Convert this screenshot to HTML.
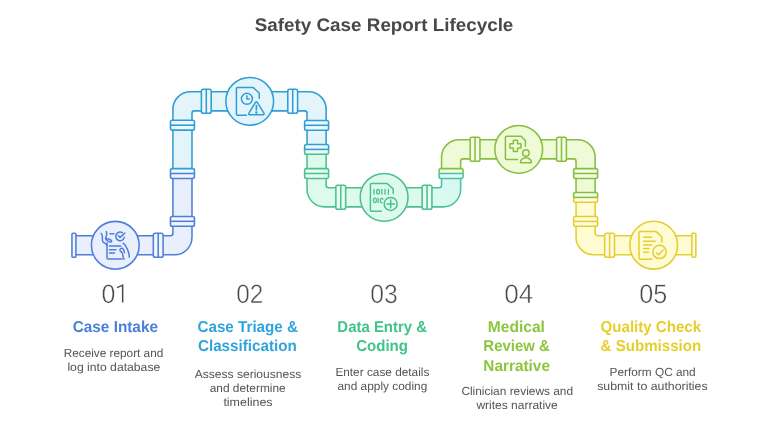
<!DOCTYPE html>
<html><head><meta charset="utf-8"><title>Safety Case Report Lifecycle</title>
<style>
html,body{margin:0;padding:0;background:#fff;}
body{width:768px;height:439px;overflow:hidden;font-family:"Liberation Sans",sans-serif;}
svg{display:block;}
text{font-family:"Liberation Sans",sans-serif;}
.b{font-weight:700;}
</style></head><body>
<svg width="768" height="439" viewBox="0 0 768 439">

<g stroke-linejoin="round">
<defs><linearGradient id="s3s" gradientUnits="userSpaceOnUse" x1="430" y1="207" x2="456" y2="176"><stop offset="0" stop-color="#4ac18f"/><stop offset="1" stop-color="#48c3a8"/></linearGradient><linearGradient id="s3f" gradientUnits="userSpaceOnUse" x1="430" y1="207" x2="456" y2="176"><stop offset="0" stop-color="#ddfaed"/><stop offset="1" stop-color="#d6f8f2"/></linearGradient></defs>
<path d="M74.00,235.70 L170.40,235.70 A2.5,2.5 0 0 0 172.90,233.20 L172.90,173.50 L192.00,173.50 L192.00,237.30 A17.5,17.5 0 0 1 174.50,254.80 L74.00,254.80 Z" fill="#eaeffd" stroke="#4f7fd8" stroke-width="1.55"/>
<path d="M172.90,173.50 L172.90,109.25 A17.5,17.5 0 0 1 190.40,91.75 L308.65,91.75 A17.5,17.5 0 0 1 326.15,109.25 L326.15,149.40 L307.05,149.40 L307.05,113.35 A2.5,2.5 0 0 0 304.55,110.85 L194.50,110.85 A2.5,2.5 0 0 0 192.00,113.35 L192.00,173.50 Z" fill="#e3f5fb" stroke="#309dd4" stroke-width="1.55"/>
<path d="M326.15,149.40 L326.15,185.25 A2.5,2.5 0 0 0 328.65,187.75 L439.05,187.75 A2.5,2.5 0 0 0 441.55,185.25 L441.55,173.50 L460.65,173.50 L460.65,189.35 A17.5,17.5 0 0 1 443.15,206.85 L324.55,206.85 A17.5,17.5 0 0 1 307.05,189.35 L307.05,149.40 Z" fill="url(#s3f)" stroke="url(#s3s)" stroke-width="1.55"/>
<path d="M441.55,173.50 L441.55,157.25 A17.5,17.5 0 0 1 459.05,139.75 L577.65,139.75 A17.5,17.5 0 0 1 595.15,157.25 L595.15,197.40 L576.05,197.40 L576.05,161.35 A2.5,2.5 0 0 0 573.55,158.85 L463.15,158.85 A2.5,2.5 0 0 0 460.65,161.35 L460.65,173.50 Z" fill="#eefbd6" stroke="#88bf42" stroke-width="1.55"/>
<path d="M595.15,197.40 L595.15,233.15 A2.5,2.5 0 0 0 597.65,235.65 L694.00,235.65 L694.00,254.75 L593.55,254.75 A17.5,17.5 0 0 1 576.05,237.25 L576.05,197.40 Z" fill="#fffbd2" stroke="#e3cf30" stroke-width="1.55"/>
</g>
<g>
<rect x="71.95" y="233.25" width="4.00" height="24.00" rx="1.1" fill="#f1f5fe" stroke="#4f7fd8" stroke-width="1.55"/>
<rect x="691.85" y="233.20" width="4.00" height="24.00" rx="1.1" fill="#fffce2" stroke="#e3cf30" stroke-width="1.55"/>
<rect x="153.30" y="233.25" width="9.80" height="24.00" rx="1.8" fill="#f1f5fe" stroke="#4f7fd8" stroke-width="1.55"/><line x1="158.20" y1="233.25" x2="158.20" y2="257.25" stroke="#4f7fd8" stroke-width="1.55"/>
<rect x="201.40" y="89.30" width="9.80" height="24.00" rx="1.8" fill="#edf8fc" stroke="#309dd4" stroke-width="1.55"/><line x1="206.30" y1="89.30" x2="206.30" y2="113.30" stroke="#309dd4" stroke-width="1.55"/>
<rect x="287.80" y="89.30" width="9.80" height="24.00" rx="1.8" fill="#edf8fc" stroke="#309dd4" stroke-width="1.55"/><line x1="292.70" y1="89.30" x2="292.70" y2="113.30" stroke="#309dd4" stroke-width="1.55"/>
<rect x="335.85" y="185.30" width="9.80" height="24.00" rx="1.8" fill="#e9fcf3" stroke="#4ac18f" stroke-width="1.55"/><line x1="340.75" y1="185.30" x2="340.75" y2="209.30" stroke="#4ac18f" stroke-width="1.55"/>
<rect x="422.15" y="185.30" width="9.80" height="24.00" rx="1.8" fill="#e9fcf3" stroke="#4ac18f" stroke-width="1.55"/><line x1="427.05" y1="185.30" x2="427.05" y2="209.30" stroke="#4ac18f" stroke-width="1.55"/>
<rect x="470.15" y="137.30" width="9.80" height="24.00" rx="1.8" fill="#f4fce4" stroke="#88bf42" stroke-width="1.55"/><line x1="475.05" y1="137.30" x2="475.05" y2="161.30" stroke="#88bf42" stroke-width="1.55"/>
<rect x="556.60" y="137.30" width="9.80" height="24.00" rx="1.8" fill="#f4fce4" stroke="#88bf42" stroke-width="1.55"/><line x1="561.50" y1="137.30" x2="561.50" y2="161.30" stroke="#88bf42" stroke-width="1.55"/>
<rect x="604.70" y="233.20" width="9.80" height="24.00" rx="1.8" fill="#fffce2" stroke="#e3cf30" stroke-width="1.55"/><line x1="609.60" y1="233.20" x2="609.60" y2="257.20" stroke="#e3cf30" stroke-width="1.55"/>
<rect x="170.45" y="216.40" width="24.00" height="9.80" rx="1.8" fill="#f1f5fe" stroke="#4f7fd8" stroke-width="1.55"/><line x1="170.45" y1="221.30" x2="194.45" y2="221.30" stroke="#4f7fd8" stroke-width="1.55"/>
<linearGradient id="g182_173s" x1="0" y1="0" x2="0" y2="1"><stop offset="0.5" stop-color="#309dd4"/><stop offset="0.5" stop-color="#4f7fd8"/></linearGradient><linearGradient id="g182_173f" x1="0" y1="0" x2="0" y2="1"><stop offset="0.5" stop-color="#edf8fc"/><stop offset="0.5" stop-color="#f1f5fe"/></linearGradient><rect x="170.45" y="168.60" width="24.00" height="9.80" rx="1.8" fill="url(#g182_173f)" stroke="url(#g182_173s)" stroke-width="1.55"/><line x1="170.45" y1="173.50" x2="194.45" y2="173.50" stroke="#4f7fd8" stroke-width="1.55"/>
<rect x="170.45" y="120.30" width="24.00" height="9.80" rx="1.8" fill="#edf8fc" stroke="#309dd4" stroke-width="1.55"/><line x1="170.45" y1="125.20" x2="194.45" y2="125.20" stroke="#309dd4" stroke-width="1.55"/>
<rect x="304.60" y="120.40" width="24.00" height="9.80" rx="1.8" fill="#edf8fc" stroke="#309dd4" stroke-width="1.55"/><line x1="304.60" y1="125.30" x2="328.60" y2="125.30" stroke="#309dd4" stroke-width="1.55"/>
<linearGradient id="g316_149s" x1="0" y1="0" x2="0" y2="1"><stop offset="0.5" stop-color="#309dd4"/><stop offset="0.5" stop-color="#4ac18f"/></linearGradient><linearGradient id="g316_149f" x1="0" y1="0" x2="0" y2="1"><stop offset="0.5" stop-color="#edf8fc"/><stop offset="0.5" stop-color="#e9fcf3"/></linearGradient><rect x="304.60" y="144.50" width="24.00" height="9.80" rx="1.8" fill="url(#g316_149f)" stroke="url(#g316_149s)" stroke-width="1.55"/><line x1="304.60" y1="149.40" x2="328.60" y2="149.40" stroke="#309dd4" stroke-width="1.55"/>
<rect x="304.60" y="168.60" width="24.00" height="9.80" rx="1.8" fill="#e9fcf3" stroke="#4ac18f" stroke-width="1.55"/><line x1="304.60" y1="173.50" x2="328.60" y2="173.50" stroke="#4ac18f" stroke-width="1.55"/>
<linearGradient id="g451_173s" x1="0" y1="0" x2="0" y2="1"><stop offset="0.5" stop-color="#88bf42"/><stop offset="0.5" stop-color="#48c3a8"/></linearGradient><linearGradient id="g451_173f" x1="0" y1="0" x2="0" y2="1"><stop offset="0.5" stop-color="#f4fce4"/><stop offset="0.5" stop-color="#e4faf7"/></linearGradient><rect x="439.10" y="168.60" width="24.00" height="9.80" rx="1.8" fill="url(#g451_173f)" stroke="url(#g451_173s)" stroke-width="1.55"/><line x1="439.10" y1="173.50" x2="463.10" y2="173.50" stroke="#48c3a8" stroke-width="1.55"/>
<rect x="573.60" y="168.60" width="24.00" height="9.80" rx="1.8" fill="#f4fce4" stroke="#88bf42" stroke-width="1.55"/><line x1="573.60" y1="173.50" x2="597.60" y2="173.50" stroke="#88bf42" stroke-width="1.55"/>
<linearGradient id="g585_197s" x1="0" y1="0" x2="0" y2="1"><stop offset="0.5" stop-color="#88bf42"/><stop offset="0.5" stop-color="#e3cf30"/></linearGradient><linearGradient id="g585_197f" x1="0" y1="0" x2="0" y2="1"><stop offset="0.5" stop-color="#f4fce4"/><stop offset="0.5" stop-color="#fffce2"/></linearGradient><rect x="573.60" y="192.50" width="24.00" height="9.80" rx="1.8" fill="url(#g585_197f)" stroke="url(#g585_197s)" stroke-width="1.55"/><line x1="573.60" y1="197.40" x2="597.60" y2="197.40" stroke="#88bf42" stroke-width="1.55"/>
<rect x="573.60" y="216.50" width="24.00" height="9.80" rx="1.8" fill="#fffce2" stroke="#e3cf30" stroke-width="1.55"/><line x1="573.60" y1="221.40" x2="597.60" y2="221.40" stroke="#e3cf30" stroke-width="1.55"/>
</g>
<circle cx="115.3" cy="245.25" r="23.9" fill="#eaeffd" stroke="#4f7fd8" stroke-width="1.55"/>
<circle cx="249.7" cy="101.3" r="23.9" fill="#e3f5fb" stroke="#309dd4" stroke-width="1.55"/>
<circle cx="384.1" cy="197.3" r="23.9" fill="#ddfaed" stroke="#4ac18f" stroke-width="1.55"/>
<circle cx="518.7" cy="149.3" r="23.9" fill="#eefbd6" stroke="#88bf42" stroke-width="1.55"/>
<circle cx="653.7" cy="245.2" r="23.9" fill="#fffbd2" stroke="#e3cf30" stroke-width="1.55"/>
<g fill="none" stroke="#4f7fd8" stroke-width="1.5" stroke-linecap="round" stroke-linejoin="round">
<path d="M101.2,233.4 C102,234.6 102.4,235.6 102.4,236.8 V240.4 C102.4,241.7 103.2,242.3 104.5,243 L107,244.9"/>
<path d="M106.3,231.6 C106.8,232.8 106.9,233.8 106.6,235 C106.3,236.2 105.7,237 105.8,238 C106.6,238.6 107.6,238.8 108.6,239 L111,240.1 C112.1,240.6 111.7,242 110.5,241.9 C109,241.7 107.8,241.2 106.9,240.5 C106.2,240 105.8,239.4 105.5,238.7"/>
<path d="M109.9,233.7 H113.9"/>
<path d="M107,242.8 V257.9 A1,1 0 0 0 108,258.9 H122.2"/>
<path d="M109.4,245.9 H120.8 M109.4,249.8 H116 M109.4,253 H114.6"/>
<path d="M123.1,243.2 C124.4,244 125.2,245 125.9,246.4 C126.6,247.8 127.4,249 127.9,250.4 C128.4,251.8 128.8,253 129,254.4 L129.3,257.1"/>
<path d="M119.8,249.9 C120.3,248.8 121.2,248 122.1,248.2 C123,248.4 123.5,249.3 123.8,250.2 L124.5,252.6"/>
<path d="M120.2,251 C121.2,251.6 122,252.2 122.4,253.2 C122.8,254.4 122.9,255.6 123.1,256.8 C123.3,257.8 123.7,258.5 124.1,259.2"/>
<path d="M124.3,237.2 A4.3,4.3 0 1 1 122.3,232.7"/>
<path d="M118.3,235.8 L120.1,237.4 L124.9,233"/>
</g>
<g fill="none" stroke="#309dd4" stroke-width="1.5" stroke-linecap="round" stroke-linejoin="round">
<path d="M246.4,115.2 H237.6 A1.2,1.2 0 0 1 236.4,114 V88.6 A1.2,1.2 0 0 1 237.6,87.4 H253 L259.2,93 V98.3"/>
<circle cx="246.9" cy="98.8" r="5.5"/>
<path d="M246.9,95.7 V98.9 H249.2"/>
<path d="M255.5,102.4 Q256.4,101 257.3,102.4 L263.9,113.2 Q264.6,114.7 263,114.7 H249.8 Q248.2,114.7 248.9,113.2 Z"/>
<path d="M256.4,105.7 V110" stroke-width="1.7"/>
<circle cx="256.4" cy="112.4" r="0.5" fill="#309dd4"/>
</g>
<g fill="none" stroke="#4ac18f" stroke-width="1.5" stroke-linecap="round" stroke-linejoin="round">
<path d="M381.3,211.2 H371.6 A1.2,1.2 0 0 1 370.4,210 V184.6 A1.2,1.2 0 0 1 371.6,183.4 H387 L393.2,189 V193.4"/>
<g stroke-width="1.3"><path d="M374,189.5 V194.2 M381.8,189.5 V194.2 M385,189.5 V194.2 M388.4,189.5 V194.2 M378.1,198.2 V202.6"/>
<rect x="376.7" y="189.5" width="2.8" height="4.7" rx="1.4"/>
<rect x="373.5" y="198.2" width="2.8" height="4.4" rx="1.4"/>
<path d="M382.2,202.6 A1.3,1.3 0 0 1 380.4,201.3 V199.5 A1.3,1.3 0 0 1 382.9,199.3"/></g>
<circle cx="390.7" cy="203.9" r="6.5"/>
<path d="M386.9,203.9 H394.5 M390.7,200.1 V207.7"/>
</g>
<g fill="none" stroke="#88bf42" stroke-width="1.5" stroke-linecap="round" stroke-linejoin="round">
<path d="M517.7,159.5 H506.6 A1.2,1.2 0 0 1 505.4,158.3 V137.5 A1.2,1.2 0 0 1 506.6,136.3 H521.1 L525.4,140.6 V146.3"/>
<path d="M513.4,140.3 H517.5 V143.8 H521 V148 H517.5 V151.5 H513.4 V148 H509.9 V143.8 H513.4 Z"/>
<circle cx="525.9" cy="153.1" r="3.25"/>
<path d="M520.4,162.7 A5.5,5 0 0 1 531.4,162.7 Z"/>
</g>
<g fill="none" stroke="#e3cf30" stroke-width="1.5" stroke-linecap="round" stroke-linejoin="round">
<path d="M651.8,259.2 H640.2 A1.2,1.2 0 0 1 639,258 V232.6 A1.2,1.2 0 0 1 640.2,231.4 H656.1 L661.8,237 V241.9"/>
<path d="M643.7,237.3 H651.7 M643.7,241.2 H655.3 M643.7,244.9 H651.7 M643.7,248.5 H649 M643.7,252.2 H648.5"/>
<circle cx="659.5" cy="251.9" r="6.7"/>
<path d="M656.4,252.7 L658.6,254.7 L663.1,250.1"/>
</g>
<g style="will-change:transform;text-rendering:geometricPrecision">
<text x="384.05" y="30.80" text-anchor="middle" textLength="258.60" lengthAdjust="spacingAndGlyphs" font-size="18.1" font-weight="700" fill="#484848">Safety Case Report Lifecycle</text>
<text x="108.50" y="302.75" text-anchor="middle" textLength="13.90" lengthAdjust="spacingAndGlyphs" font-size="26.6" font-weight="400" fill="#484848" stroke="#fff" stroke-width="0.5" paint-order="fill stroke">0</text>
<path d="M123.4,284.3 V302.5 H121.9 V286.25 L117.25,288.3 L116.9,286.95 L122.3,284.4 Z" fill="#484848"/>
<text x="249.80" y="302.75" text-anchor="middle" textLength="27.10" lengthAdjust="spacingAndGlyphs" font-size="26.6" font-weight="400" fill="#484848" stroke="#fff" stroke-width="0.5" paint-order="fill stroke">02</text>
<text x="384.00" y="302.75" text-anchor="middle" textLength="27.50" lengthAdjust="spacingAndGlyphs" font-size="26.6" font-weight="400" fill="#484848" stroke="#fff" stroke-width="0.5" paint-order="fill stroke">03</text>
<text x="518.80" y="302.75" text-anchor="middle" textLength="29.10" lengthAdjust="spacingAndGlyphs" font-size="26.6" font-weight="400" fill="#484848" stroke="#fff" stroke-width="0.5" paint-order="fill stroke">04</text>
<text x="653.30" y="302.75" text-anchor="middle" textLength="28.10" lengthAdjust="spacingAndGlyphs" font-size="26.6" font-weight="400" fill="#484848" stroke="#fff" stroke-width="0.5" paint-order="fill stroke">05</text>
<text x="115.35" y="332.30" text-anchor="middle" textLength="85.20" lengthAdjust="spacingAndGlyphs" font-size="15.8" font-weight="700" fill="#4a80da">Case Intake</text>
<text x="247.75" y="332.30" text-anchor="middle" textLength="100.60" lengthAdjust="spacingAndGlyphs" font-size="15.8" font-weight="700" fill="#2fa4db">Case Triage &amp;</text>
<text x="247.35" y="351.40" text-anchor="middle" textLength="98.80" lengthAdjust="spacingAndGlyphs" font-size="15.8" font-weight="700" fill="#2fa4db">Classification</text>
<text x="382.20" y="332.30" text-anchor="middle" textLength="89.70" lengthAdjust="spacingAndGlyphs" font-size="15.8" font-weight="700" fill="#40c489">Data Entry &amp;</text>
<text x="382.05" y="351.40" text-anchor="middle" textLength="51.80" lengthAdjust="spacingAndGlyphs" font-size="15.8" font-weight="700" fill="#40c489">Coding</text>
<text x="516.40" y="332.30" text-anchor="middle" textLength="57.10" lengthAdjust="spacingAndGlyphs" font-size="15.8" font-weight="700" fill="#8cc63f">Medical</text>
<text x="516.65" y="351.40" text-anchor="middle" textLength="66.60" lengthAdjust="spacingAndGlyphs" font-size="15.8" font-weight="700" fill="#8cc63f">Review &amp;</text>
<text x="516.65" y="370.50" text-anchor="middle" textLength="66.60" lengthAdjust="spacingAndGlyphs" font-size="15.8" font-weight="700" fill="#8cc63f">Narrative</text>
<text x="650.85" y="332.30" text-anchor="middle" textLength="100.60" lengthAdjust="spacingAndGlyphs" font-size="15.8" font-weight="700" fill="#e6cf2b">Quality Check</text>
<text x="650.85" y="351.40" text-anchor="middle" textLength="100.60" lengthAdjust="spacingAndGlyphs" font-size="15.8" font-weight="700" fill="#e6cf2b">&amp; Submission</text>
<text x="113.50" y="356.90" text-anchor="middle" textLength="99.60" lengthAdjust="spacingAndGlyphs" font-size="11.7" font-weight="400" fill="#545454">Receive report and</text>
<text x="113.85" y="370.60" text-anchor="middle" textLength="92.90" lengthAdjust="spacingAndGlyphs" font-size="11.7" font-weight="400" fill="#545454">log into database</text>
<text x="248.00" y="378.40" text-anchor="middle" textLength="106.60" lengthAdjust="spacingAndGlyphs" font-size="11.7" font-weight="400" fill="#545454">Assess seriousness</text>
<text x="247.70" y="392.10" text-anchor="middle" textLength="76.00" lengthAdjust="spacingAndGlyphs" font-size="11.7" font-weight="400" fill="#545454">and determine</text>
<text x="248.00" y="405.80" text-anchor="middle" textLength="49.20" lengthAdjust="spacingAndGlyphs" font-size="11.7" font-weight="400" fill="#545454">timelines</text>
<text x="382.35" y="376.40" text-anchor="middle" textLength="93.90" lengthAdjust="spacingAndGlyphs" font-size="11.7" font-weight="400" fill="#545454">Enter case details</text>
<text x="382.40" y="390.10" text-anchor="middle" textLength="89.80" lengthAdjust="spacingAndGlyphs" font-size="11.7" font-weight="400" fill="#545454">and apply coding</text>
<text x="517.25" y="395.40" text-anchor="middle" textLength="111.70" lengthAdjust="spacingAndGlyphs" font-size="11.7" font-weight="400" fill="#545454">Clinician reviews and</text>
<text x="517.10" y="409.10" text-anchor="middle" textLength="81.40" lengthAdjust="spacingAndGlyphs" font-size="11.7" font-weight="400" fill="#545454">writes narrative</text>
<text x="652.65" y="376.40" text-anchor="middle" textLength="86.10" lengthAdjust="spacingAndGlyphs" font-size="11.7" font-weight="400" fill="#545454">Perform QC and</text>
<text x="652.40" y="390.10" text-anchor="middle" textLength="110.40" lengthAdjust="spacingAndGlyphs" font-size="11.7" font-weight="400" fill="#545454">submit to authorities</text>
</g>
</svg></body></html>
